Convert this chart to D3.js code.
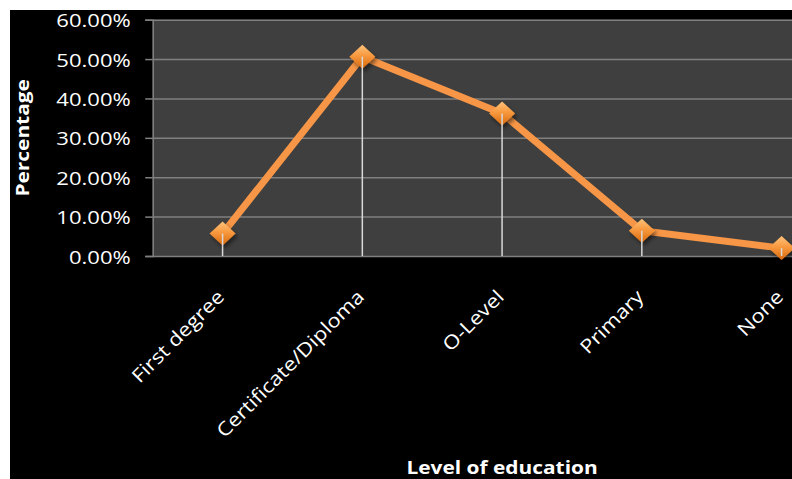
<!DOCTYPE html>
<html>
<head>
<meta charset="utf-8">
<script src="https://cdn.jsdelivr.net/npm/d3@7"></script>
<style>
  html, body { margin: 0; padding: 0; background: #fff; }
  svg { display: block; }
  text { font-family: "Open Sans", "DejaVu Sans", sans-serif; fill: #fff; }
</style>
</head>
<body>
<svg id="chart" width="792" height="479"></svg>
<script>
// Education level distribution
const categories = ["First degree", "Certificate/Diploma", "O-Level", "Primary", "None"];
const values = [0.057, 0.506, 0.362, 0.064, 0.020];
const yTicks = [0, 0.1, 0.2, 0.3, 0.4, 0.5, 0.6];
const xTitle = "Level of education";
const yTitle = "Percentage";

const W = 792, H = 479;
const plot = { left: 152.7, top: 19.7, bottom: 256, band: 139.75 };
const TEXT_SX = 1.16; // horizontal stretch applied to text

const svg = d3.select("#chart");

// black chart canvas with a white margin on top and left
svg.append("rect").attr("x", 10).attr("y", 10).attr("width", W - 10).attr("height", H - 10).attr("fill", "#000");

const x = d3.scaleBand()
  .domain(categories)
  .range([plot.left, plot.left + plot.band * categories.length])
  .padding(0);
const y = d3.scaleLinear().domain([0, 0.6]).range([plot.bottom, plot.top]);
const cx = d => x(d) + x.bandwidth() / 2;

const defs = svg.append("defs");
const grad = defs.append("linearGradient").attr("id", "mk").attr("x1", 0).attr("y1", 0).attr("x2", 0).attr("y2", 1);
grad.append("stop").attr("offset", "0%").attr("stop-color", "#fdc27a");
grad.append("stop").attr("offset", "45%").attr("stop-color", "#f8993f");
grad.append("stop").attr("offset", "100%").attr("stop-color", "#d8680c");
const shadow = defs.append("filter").attr("id", "sh").attr("x", "-50%").attr("y", "-50%").attr("width", "200%").attr("height", "200%");
shadow.append("feGaussianBlur").attr("in", "SourceAlpha").attr("stdDeviation", 2).attr("result", "b");
shadow.append("feOffset").attr("in", "b").attr("dx", 2).attr("dy", 3).attr("result", "o");
shadow.append("feComponentTransfer").attr("in", "o").attr("result", "s")
  .append("feFuncA").attr("type", "linear").attr("slope", 0.5);
const merge = shadow.append("feMerge");
merge.append("feMergeNode").attr("in", "s");
merge.append("feMergeNode").attr("in", "SourceGraphic");

// plot area
svg.append("rect")
  .attr("x", plot.left).attr("y", plot.top)
  .attr("width", plot.band * categories.length).attr("height", plot.bottom - plot.top)
  .attr("fill", "#3f3f3f");

// y axis with gridlines
const yAxis = svg.append("g")
  .attr("transform", `translate(${plot.left},0)`)
  .call(d3.axisLeft(y).tickValues(yTicks).tickSize(7.5).tickPadding(0).tickFormat(() => ""));
yAxis.select(".domain").attr("stroke", "#808080").attr("stroke-width", 1.5);
yAxis.selectAll(".tick line").attr("stroke", "#808080").attr("stroke-width", 1.5);
yAxis.selectAll(".tick").append("line")
  .attr("x1", 0).attr("x2", plot.band * categories.length)
  .attr("stroke", "#808080").attr("stroke-width", 1.5);
yAxis.selectAll(".tick").append("text")
  .attr("text-anchor", "end")
  .attr("transform", `translate(-22,7) scale(${TEXT_SX},1)`)
  .style("font-size", "19px")
  .text(d => d3.format(".2%")(d));

// series line
const line = d3.line().x((d, i) => cx(categories[i])).y(d => y(d));
svg.append("path")
  .datum(values)
  .attr("d", line)
  .attr("fill", "none")
  .attr("stroke", "#f79646")
  .attr("stroke-width", 7)
  .attr("stroke-linejoin", "round");

// diamond markers
svg.selectAll(".mk")
  .data(values)
  .join("path")
  .attr("class", "mk")
  .attr("transform", (d, i) => `translate(${cx(categories[i])},${y(d)})`)
  .attr("d", "M0,-12 L13,0 L0,12 L-13,0 Z")
  .attr("fill", "url(#mk)")
  .attr("filter", "url(#sh)");

// drop lines
svg.selectAll(".drop")
  .data(values)
  .join("line")
  .attr("class", "drop")
  .attr("x1", (d, i) => cx(categories[i])).attr("x2", (d, i) => cx(categories[i]))
  .attr("y1", d => y(d)).attr("y2", plot.bottom)
  .attr("stroke", "#d9d9d9").attr("stroke-width", 1.5);

// category labels
svg.selectAll(".cat")
  .data(categories)
  .join("text")
  .attr("class", "cat")
  .attr("text-anchor", "end")
  .attr("transform", d => `translate(${cx(d) + 3},${plot.bottom + 42}) rotate(-45) scale(${TEXT_SX},1)`)
  .style("font-size", "19px")
  .text(d => d);

// axis titles
svg.append("text")
  .attr("text-anchor", "middle")
  .attr("transform", `translate(${plot.left + plot.band * categories.length / 2},474) scale(${TEXT_SX},1)`)
  .style("font-size", "18px").style("font-weight", "bold")
  .text(xTitle);
svg.append("text")
  .attr("text-anchor", "middle")
  .attr("transform", `translate(29,${(plot.top + plot.bottom) / 2}) rotate(-90) scale(${TEXT_SX},1)`)
  .style("font-size", "18px").style("font-weight", "bold")
  .text(yTitle);
</script>
</body>
</html>
